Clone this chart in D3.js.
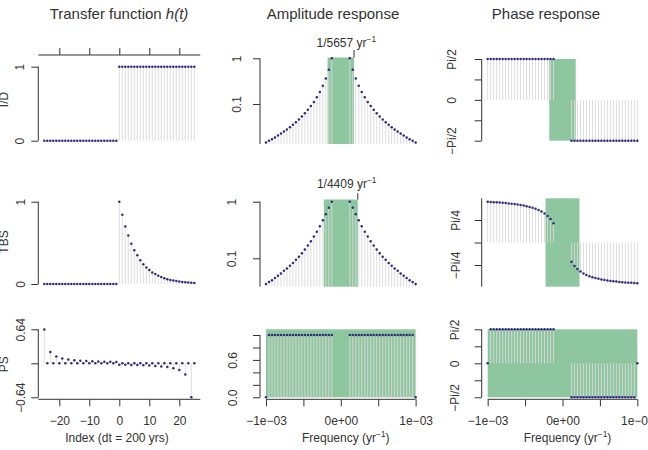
<!DOCTYPE html>
<html><head><meta charset="utf-8">
<script src="https://cdn.jsdelivr.net/npm/d3@7"></script>
<style>
body{margin:0;background:#fff}
svg{display:block}
text{font-family:"Liberation Sans",Arial,Helvetica,sans-serif}
</style>
</head><body>
<svg id="c" width="648" height="450"></svg>
<script>
// ---------------- data ----------------
const index = [-25,-24,-23,-22,-21,-20,-19,-18,-17,-16,-15,-14,-13,-12,-11,-10,-9,-8,-7,-6,-5,-4,-3,-2,-1,0,1,2,3,4,5,6,7,8,9,10,11,12,13,14,15,16,17,18,19,20,21,22,23,24,25];
// frequencies in units of 1e-3 yr^-1
const freqMilli = [-1.00,-0.96,-0.92,-0.88,-0.84,-0.80,-0.76,-0.72,-0.68,-0.64,-0.60,-0.56,-0.52,-0.48,-0.44,-0.40,-0.36,-0.32,-0.28,-0.24,-0.20,-0.16,-0.12,-0.08,-0.04,0,0.04,0.08,0.12,0.16,0.20,0.24,0.28,0.32,0.36,0.40,0.44,0.48,0.52,0.56,0.60,0.64,0.68,0.72,0.76,0.80,0.84,0.88,0.92,0.96,1.00];

const hID = [0,0,0,0,0,0,0,0,0,0,0,0,0,0,0,0,0,0,0,0,0,0,0,0,0,1,1,1,1,1,1,1,1,1,1,1,1,1,1,1,1,1,1,1,1,1,1,1,1,1,1];
const hTBS = [0,0,0,0,0,0,0,0,0,0,0,0,0,0,0,0,0,0,0,0,0,0,0,0,0,1,0.84,0.70,0.59,0.49,0.41,0.35,0.29,0.24,0.20,0.17,0.14,0.12,0.10,0.085,0.071,0.059,0.050,0.042,0.035,0.029,0.024,0.020,0.017,0.014,0.012];
const hPS = [0.637,0,0.212,0,0.127,0,0.091,0,0.071,0,0.058,0,0.049,0,0.042,0,0.037,0,0.034,0,0.030,0,0.028,0,0.025,-0.025,0,-0.028,0,-0.030,0,-0.034,0,-0.037,0,-0.042,0,-0.049,0,-0.058,0,-0.071,0,-0.091,0,-0.127,0,-0.212,0,-0.637,0];

const ampID = [0.0144,0.0156,0.0170,0.0186,0.0204,0.0225,0.0249,0.0278,0.0311,0.0352,0.0400,0.0459,0.0533,0.0625,0.0744,0.0900,0.111,0.141,0.184,0.250,0.360,0.563,1.00,null,null,null,null,null,1.00,0.563,0.360,0.250,0.184,0.141,0.111,0.0900,0.0744,0.0625,0.0533,0.0459,0.0400,0.0352,0.0311,0.0278,0.0249,0.0225,0.0204,0.0186,0.0170,0.0156,0.0144];
const ampTBS = [0.035,0.038,0.041,0.045,0.049,0.054,0.060,0.066,0.074,0.083,0.094,0.107,0.123,0.143,0.168,0.200,0.242,0.295,0.37,0.47,0.60,0.78,1.00,null,null,null,null,null,1.00,0.78,0.60,0.47,0.37,0.295,0.242,0.200,0.168,0.143,0.123,0.107,0.094,0.083,0.074,0.066,0.060,0.054,0.049,0.045,0.041,0.038,0.035];
const ampPS = [0,1,1,1,1,1,1,1,1,1,1,1,1,1,1,1,1,1,1,1,1,1,1,null,null,null,null,null,1,1,1,1,1,1,1,1,1,1,1,1,1,1,1,1,1,1,1,1,1,1,0];

const phaseID = [1.571,1.571,1.571,1.571,1.571,1.571,1.571,1.571,1.571,1.571,1.571,1.571,1.571,1.571,1.571,1.571,1.571,1.571,1.571,1.571,1.571,1.571,1.571,null,null,null,null,null,-1.571,-1.571,-1.571,-1.571,-1.571,-1.571,-1.571,-1.571,-1.571,-1.571,-1.571,-1.571,-1.571,-1.571,-1.571,-1.571,-1.571,-1.571,-1.571,-1.571,-1.571,-1.571,-1.571];
const phaseTBS = [1.422,1.416,1.409,1.402,1.394,1.385,1.376,1.365,1.354,1.341,1.326,1.309,1.290,1.268,1.242,1.212,1.176,1.132,1.079,1.012,0.927,0.817,0.675,null,null,null,null,null,-0.675,-0.817,-0.927,-1.012,-1.079,-1.132,-1.176,-1.212,-1.242,-1.268,-1.290,-1.309,-1.326,-1.341,-1.354,-1.365,-1.376,-1.385,-1.394,-1.402,-1.409,-1.416,-1.422];
const phasePS = [0,1.571,1.571,1.571,1.571,1.571,1.571,1.571,1.571,1.571,1.571,1.571,1.571,1.571,1.571,1.571,1.571,1.571,1.571,1.571,1.571,1.571,1.571,null,null,null,null,null,-1.571,-1.571,-1.571,-1.571,-1.571,-1.571,-1.571,-1.571,-1.571,-1.571,-1.571,-1.571,-1.571,-1.571,-1.571,-1.571,-1.571,-1.571,-1.571,-1.571,-1.571,-1.571,0];

const rowNames = ["I/D","TBS","PS"];
const cutoffYears = [5657, 4409];          // cut-off periods shown as labels
const idxTicks = [-20,-10,0,10,20];
const idxTickLabels = ["\u221220","\u221210","0","10","20"];
const freqTicks = [-1e-3,-5e-4,0,5e-4,1e-3];
const freqTickLabels = ["\u22121e\u221203","","0e+00","","1e\u221203"];

// ---------------- drawing ----------------
const W = 648, H = 450;
const INK = "#333", DOT = "#2e2b7c", STEM = "#d9d9d9", BAND = "#8ec79f";
const svg = d3.select("#c");
svg.append("rect").attr("width", W).attr("height", H).attr("fill", "#fff");

const freq = freqMilli.map(v => v * 1e-3);
const PI = Math.PI;

const xIdx = d3.scaleLinear().domain([-27, 27]).range([38.3, 200.3]);
const xF2 = d3.scaleLinear().domain([-1.08e-3, 1.08e-3]).range([260, 421.6]);
const xF3 = d3.scaleLinear().domain([-1.08e-3, 1.08e-3]).range([481.7, 643.3]);

const layerBand = svg.append("g");
const layerStem = svg.append("g");
const layerAxis = svg.append("g");
const layerDot = svg.append("g");
const layerText = svg.append("g");

function band(xs, x0, x1, y0, y1) {
  layerBand.append("rect")
    .attr("x", xs(x0)).attr("width", xs(x1) - xs(x0))
    .attr("y", y0).attr("height", y1 - y0)
    .attr("fill", BAND);
}

function series(xs, ys, xv, yv, baseY) {
  const data = xv.map((x, i) => ({x, y: yv[i]})).filter(d => d.y !== null);
  layerStem.append("g").selectAll("line").data(data).join("line")
    .attr("x1", d => xs(d.x)).attr("x2", d => xs(d.x))
    .attr("y1", baseY).attr("y2", d => ys(d.y))
    .attr("stroke", STEM).attr("stroke-width", 0.9);
  layerDot.append("g").selectAll("circle").data(data).join("circle")
    .attr("cx", d => xs(d.x)).attr("cy", d => ys(d.y))
    .attr("r", 1.25).attr("fill", DOT);
}

function yAxis(ys, x, ticks, labels, lineY0, lineY1, labelX) {
  const g = layerAxis.append("g").attr("transform", `translate(${x},0)`)
    .style("color", INK)
    .call(d3.axisLeft(ys).tickValues(ticks).tickSize(7).tickSizeOuter(0)
      .tickFormat((d, i) => labels[i]));
  g.select(".domain").remove();
  g.selectAll(".tick text")
    .attr("x", 0).attr("dy", null)
    .attr("transform", `translate(${labelX - x},0) rotate(-90)`)
    .attr("text-anchor", "middle").attr("dominant-baseline", "central")
    .attr("font-size", 12).attr("font-family", "Liberation Sans, Arial, sans-serif");
  g.append("line").attr("x1", 0).attr("x2", 0).attr("y1", lineY0).attr("y2", lineY1)
    .attr("stroke", INK);
}

function xAxis(xs, y, ticks, labels, lx0, lx1, top) {
  const ax = top ? d3.axisTop(xs) : d3.axisBottom(xs);
  const g = layerAxis.append("g").attr("transform", `translate(0,${y})`)
    .style("color", INK)
    .call(ax.tickValues(ticks).tickSize(7).tickSizeOuter(0)
      .tickFormat((d, i) => labels ? labels[i] : ""));
  g.select(".domain").remove();
  g.selectAll(".tick text")
    .attr("y", 21.4).attr("dy", null).attr("dominant-baseline", "central")
    .attr("font-size", 12).attr("font-family", "Liberation Sans, Arial, sans-serif");
  g.append("line").attr("x1", lx0).attr("x2", lx1).attr("y1", 0).attr("y2", 0)
    .attr("stroke", INK);
}

// ---------- column 1 : transfer function ----------
const y11 = d3.scaleLinear().domain([0, 1]).range([140.7, 66.7]);
const y21 = d3.scaleLinear().domain([0, 1]).range([284, 201.7]);
const y31 = d3.scaleLinear().domain([-0.64, 0.64]).range([397.3, 329.3]);

series(xIdx, y11, index, hID, y11(0));
series(xIdx, y21, index, hTBS, y21(0));
series(xIdx, y31, index, hPS, y31(0));

yAxis(y11, 38.3, [0, 1], ["0", "1"], y11(1), y11(0), 19.5);
yAxis(y21, 38.3, [0, 1], ["0", "1"], y21(1), y21(0), 20.5);
yAxis(y31, 38.3, [-0.64, 0, 0.64], ["\u22120.64", "", "0.64"], y31(0.64), y31(-0.64), 20.7);
xAxis(xIdx, 55, idxTicks, null, 38.3, 200.3, true);
xAxis(xIdx, 399.3, idxTicks, idxTickLabels, 38.3, 200.3, false);

// ---------- column 2 : amplitude response ----------
const y12 = d3.scaleLog().domain([0.1, 1]).range([104, 58.3]);
const y22 = d3.scaleLog().domain([0.1, 1]).range([258.3, 201.7]);
const y32 = d3.scaleLinear().domain([0, 1]).range([397.3, 335]);

band(xF2, -1 / cutoffYears[0], 1 / cutoffYears[0], 57.5, 144);
band(xF2, -1 / cutoffYears[1], 1 / cutoffYears[1], 199.5, 286.7);
band(xF2, -1e-3, 1e-3, 329.3, 397.3);

series(xF2, y12, freq, ampID, 144);
series(xF2, y22, freq, ampTBS, 286.7);
series(xF2, y32, freq, ampPS, y32(0));

yAxis(y12, 260, [0.1, 1], ["0.1", "1"], y12(1), 144, 237);
yAxis(y22, 260, [0.1, 1], ["0.1", "1"], y22(1), 286.7, 231.5);
yAxis(y32, 260, [0, 0.2, 0.4, 0.6, 0.8, 1], ["0.0", "", "", "0.6", "", ""], y32(1), y32(0), 233.3);
xAxis(xF2, 399.3, freqTicks, freqTickLabels, xF2(-1e-3), xF2(1e-3), false);

// cut-off tick marks and labels
layerAxis.append("line").attr("x1", xF2(1 / cutoffYears[0])).attr("x2", xF2(1 / cutoffYears[0]))
  .attr("y1", 50).attr("y2", 57.5).attr("stroke", INK);
layerAxis.append("line").attr("x1", xF2(1 / cutoffYears[1])).attr("x2", xF2(1 / cutoffYears[1]))
  .attr("y1", 193.3).attr("y2", 199.5).attr("stroke", INK);

function supText(cx, baseline, main, sup, tail, size) {
  const t = layerText.append("text").attr("x", cx).attr("y", baseline)
    .attr("text-anchor", "middle").attr("font-size", size).attr("fill", INK);
  t.append("tspan").text(main);
  t.append("tspan").attr("font-size", size * 0.7).attr("dy", -5).text(sup);
  if (tail) t.append("tspan").attr("dy", 5).text(tail);
  return t;
}
supText(346.3, 47, `1/${cutoffYears[0]} yr`, "\u22121", null, 12);
supText(346.7, 188.3, `1/${cutoffYears[1]} yr`, "\u22121", null, 12);

// ---------- column 3 : phase response ----------
const y13 = d3.scaleLinear().domain([-PI / 2, PI / 2]).range([140.7, 59]);
const y23 = d3.scaleLinear().domain([-PI / 4, PI / 4]).range([265, 220]);
const y33 = d3.scaleLinear().domain([-PI / 2, PI / 2]).range([397.3, 329.3]);

band(xF3, -1 / cutoffYears[0], 1 / cutoffYears[0], y13(PI / 2), y13(-PI / 2));
band(xF3, -1 / cutoffYears[1], 1 / cutoffYears[1], 198.3, 286.7);
band(xF3, -1e-3, 1e-3, y33(PI / 2), y33(-PI / 2));

series(xF3, y13, freq, phaseID, y13(0));
series(xF3, y23, freq, phaseTBS, y23(0));
series(xF3, y33, freq, phasePS, y33(0));

const pi2Ticks = [-PI / 2, -PI / 4, 0, PI / 4, PI / 2];
yAxis(y13, 481.7, pi2Ticks, ["\u2212Pi/2", "", "0", "", "Pi/2"], y13(PI / 2), y13(-PI / 2), 452);
yAxis(y23, 481.7, [-PI / 4, 0, PI / 4], ["\u2212Pi/4", "", "Pi/4"], 198.3, 286.7, 456);
yAxis(y33, 481.7, pi2Ticks, ["\u2212Pi/2", "", "0", "", "Pi/2"], y33(PI / 2), y33(-PI / 2), 455);
xAxis(xF3, 399.3, freqTicks, freqTickLabels, xF3(-1e-3), xF3(1e-3), false);

// ---------- titles and labels ----------
const t1 = layerText.append("text").attr("x", 119).attr("y", 19).attr("text-anchor", "middle")
  .attr("font-size", 15).attr("fill", INK);
t1.append("tspan").text("Transfer function ");
t1.append("tspan").attr("font-style", "italic").text("h(t)");
layerText.append("text").attr("x", 333).attr("y", 19).attr("text-anchor", "middle")
  .attr("font-size", 15).attr("fill", INK).text("Amplitude response");
layerText.append("text").attr("x", 546).attr("y", 19).attr("text-anchor", "middle")
  .attr("font-size", 15).attr("fill", INK).text("Phase response");

layerText.append("text").attr("x", 117).attr("y", 442).attr("text-anchor", "middle")
  .attr("font-size", 12).attr("fill", INK).text("Index (dt = 200 yrs)");
supText(345.8, 442, "Frequency (yr", "\u22121", ")", 12);
supText(567.5, 442, "Frequency (yr", "\u22121", ")", 12);

const rowCenters = [99.5, 242, 364.3];
rowNames.forEach((n, i) => {
  layerText.append("text")
    .attr("transform", `translate(7.5,${rowCenters[i]}) rotate(-90)`)
    .attr("text-anchor", "middle").attr("font-size", 12).attr("fill", INK).text(n);
});
</script>
</body></html>
